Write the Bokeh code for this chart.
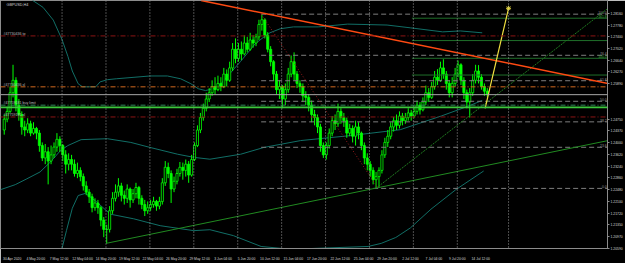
from bokeh.plotting import figure
from bokeh.models import FixedTicker, PrintfTickFormatter, Span, Label, ColumnDataSource
from bokeh.embed import file_html
from bokeh.resources import INLINE
from bokeh.core.properties import value

FONT = "Liberation Sans"
AX_FS = "3.4px"

# ---------------- data (GBPUSD, 8-hour candles = 2 H4 bars each) ----------------
first_open = 1.2440
closes = [
    1.2475, 1.2500, 1.2560, 1.2600, 1.2520, 1.2490, 1.2450, 1.2440, 1.2460, 1.2430,
    1.2445, 1.2430, 1.2390, 1.2350, 1.2370, 1.2340, 1.2360, 1.2385, 1.2410, 1.2390,
    1.2360, 1.2330, 1.2345, 1.2330, 1.2300, 1.2310, 1.2290, 1.2260, 1.2240, 1.2225,
    1.2190, 1.2205, 1.2190, 1.2150, 1.2120, 1.2120, 1.2180, 1.2220, 1.2240, 1.2260,
    1.2230, 1.2220, 1.2250, 1.2215, 1.2235, 1.2255, 1.2220, 1.2200, 1.2180, 1.2190,
    1.2200, 1.2210, 1.2195, 1.2210, 1.2270, 1.2320, 1.2300, 1.2250, 1.2275, 1.2300,
    1.2320, 1.2310, 1.2330, 1.2295, 1.2345, 1.2390, 1.2440, 1.2480, 1.2510, 1.2540,
    1.2560, 1.2580, 1.2570, 1.2590, 1.2580, 1.2620, 1.2600, 1.2640, 1.2700, 1.2670,
    1.2700, 1.2685, 1.2720, 1.2700, 1.2730, 1.2720, 1.2740, 1.2780, 1.2795, 1.2745,
    1.2700, 1.2660, 1.2620, 1.2570, 1.2580, 1.2540, 1.2570, 1.2620, 1.2660, 1.2620,
    1.2590, 1.2580, 1.2550, 1.2545, 1.2520, 1.2490, 1.2480, 1.2450, 1.2390, 1.2360,
    1.2390, 1.2430, 1.2470, 1.2460, 1.2500, 1.2480, 1.2470, 1.2430, 1.2445, 1.2420,
    1.2450, 1.2430, 1.2390, 1.2350, 1.2330, 1.2310, 1.2280, 1.2290, 1.2310, 1.2360,
    1.2400, 1.2420, 1.2450, 1.2470, 1.2455, 1.2485, 1.2470, 1.2480, 1.2495, 1.2485,
    1.2500, 1.2520, 1.2505, 1.2530, 1.2560, 1.2545, 1.2580, 1.2610, 1.2600, 1.2640,
    1.2620, 1.2590, 1.2560, 1.2590, 1.2620, 1.2650, 1.2600, 1.2560, 1.2530, 1.2560,
    1.2600, 1.2630, 1.2610, 1.2580, 1.2565, 1.2554,
]
highs = [
    1.2490, 1.2515, 1.2580, 1.2650, 1.2610, 1.2540, 1.2500, 1.2470, 1.2478, 1.2470,
    1.2465, 1.2450, 1.2440, 1.2400, 1.2395, 1.2385, 1.2390, 1.2400, 1.2430, 1.2420,
    1.2395, 1.2375, 1.2365, 1.2360, 1.2345, 1.2335, 1.2320, 1.2300, 1.2275, 1.2250,
    1.2235, 1.2220, 1.2215, 1.2195, 1.2160, 1.2135, 1.2195, 1.2240, 1.2265, 1.2285,
    1.2270, 1.2245, 1.2265, 1.2255, 1.2250, 1.2270, 1.2260, 1.2230, 1.2215, 1.2210,
    1.2215, 1.2225, 1.2215, 1.2225, 1.2285, 1.2340, 1.2335, 1.2310, 1.2290, 1.2315,
    1.2337, 1.2335, 1.2345, 1.2340, 1.2360, 1.2400, 1.2455, 1.2495, 1.2525, 1.2560,
    1.2575, 1.2600, 1.2610, 1.2615, 1.2610, 1.2640, 1.2635, 1.2660, 1.2720, 1.2735,
    1.2720, 1.2725, 1.2745, 1.2740, 1.2753, 1.2745, 1.2750, 1.2795, 1.2813, 1.2800,
    1.2755, 1.2710, 1.2665, 1.2630, 1.2600, 1.2585, 1.2590, 1.2640, 1.2680, 1.2690,
    1.2630, 1.2600, 1.2590, 1.2565, 1.2555, 1.2535, 1.2505, 1.2490, 1.2460, 1.2400,
    1.2400, 1.2445, 1.2485, 1.2490, 1.2525, 1.2510, 1.2495, 1.2480, 1.2460, 1.2455,
    1.2470, 1.2465, 1.2435, 1.2400, 1.2365, 1.2340, 1.2320, 1.2305, 1.2320, 1.2375,
    1.2415, 1.2440, 1.2465, 1.2482, 1.2490, 1.2500, 1.2495, 1.2495, 1.2510, 1.2505,
    1.2515, 1.2535, 1.2530, 1.2545, 1.2583, 1.2575, 1.2595, 1.2630, 1.2636, 1.2660,
    1.2668, 1.2630, 1.2600, 1.2610, 1.2640, 1.2664, 1.2655, 1.2610, 1.2570, 1.2575,
    1.2620, 1.2650, 1.2649, 1.2620, 1.2590, 1.2575,
]
lows = [
    1.2425, 1.2465, 1.2495, 1.2545, 1.2500, 1.2470, 1.2425, 1.2420, 1.2430, 1.2420,
    1.2425, 1.2410, 1.2370, 1.2340, 1.2330, 1.2265, 1.2330, 1.2350, 1.2370, 1.2370,
    1.2340, 1.2300, 1.2310, 1.2310, 1.2290, 1.2285, 1.2275, 1.2245, 1.2230, 1.2205,
    1.2175, 1.2180, 1.2170, 1.2130, 1.2095, 1.2076, 1.2110, 1.2170, 1.2210, 1.2225,
    1.2210, 1.2200, 1.2205, 1.2190, 1.2205, 1.2220, 1.2200, 1.2185, 1.2163, 1.2170,
    1.2180, 1.2190, 1.2180, 1.2185, 1.2200, 1.2260, 1.2285, 1.2205, 1.2240, 1.2265,
    1.2290, 1.2280, 1.2290, 1.2270, 1.2290, 1.2340, 1.2385, 1.2430, 1.2470, 1.2500,
    1.2530, 1.2550, 1.2555, 1.2565, 1.2565, 1.2575, 1.2580, 1.2595, 1.2630, 1.2655,
    1.2660, 1.2665, 1.2680, 1.2690, 1.2695, 1.2705, 1.2710, 1.2730, 1.2760, 1.2735,
    1.2690, 1.2645, 1.2600, 1.2555, 1.2540, 1.2510, 1.2520, 1.2560, 1.2610, 1.2600,
    1.2575, 1.2560, 1.2530, 1.2520, 1.2500, 1.2465, 1.2455, 1.2430, 1.2370, 1.2350,
    1.2345, 1.2380, 1.2420, 1.2440, 1.2450, 1.2460, 1.2450, 1.2415, 1.2420, 1.2400,
    1.2390, 1.2410, 1.2375, 1.2330, 1.2310, 1.2290, 1.2265, 1.2252, 1.2255, 1.2300,
    1.2350, 1.2385, 1.2410, 1.2435, 1.2440, 1.2445, 1.2455, 1.2460, 1.2470, 1.2470,
    1.2478, 1.2490, 1.2490, 1.2500, 1.2520, 1.2530, 1.2540, 1.2570, 1.2585, 1.2595,
    1.2605, 1.2570, 1.2545, 1.2545, 1.2580, 1.2610, 1.2585, 1.2540, 1.2510, 1.2480,
    1.2550, 1.2590, 1.2590, 1.2570, 1.2550, 1.2545,
]

# Bollinger-type bands (bar index, price)
bb_up_bar = [12, 20, 27, 34, 40, 44, 47, 51, 54, 63, 66, 71, 77, 100, 112, 121, 128, 133, 138, 143,
             148, 162, 172, 178, 182, 189, 198, 215, 235, 262, 278, 300, 312, 327]
bb_up = [1.2983, 1.2857, 1.2835, 1.2794, 1.2731, 1.2677, 1.2630, 1.2589, 1.2579, 1.2579,
         1.2595, 1.2602, 1.2605, 1.2614, 1.2614, 1.2605, 1.2589, 1.2573, 1.2567, 1.2573,
         1.2586, 1.2661, 1.2718, 1.2740, 1.2753, 1.2766, 1.2772, 1.2772, 1.2781, 1.2778,
         1.2769, 1.2756, 1.2759, 1.2753]
bb_mid_bar = [-2, 8, 16, 25, 32, 39, 44, 53, 71, 87, 100, 119, 130, 141, 162, 178, 203, 237, 271,
              285, 299, 317, 327]
bb_mid = [1.2248, 1.2264, 1.2283, 1.2305, 1.2337, 1.2374, 1.2390, 1.2409, 1.2412, 1.2400,
          1.2384, 1.2362, 1.2352, 1.2346, 1.2362, 1.2384, 1.2406, 1.2422, 1.2441, 1.2463,
          1.2485, 1.2516, 1.2535]
bb_low_bar = [36, 40, 43, 47, 51, 56, 63, 73, 89, 107, 130, 141, 157, 176, 196, 249, 258, 268,
              278, 292, 309, 328]
bb_low = [1.1990, 1.2059, 1.2116, 1.2188, 1.2229, 1.2236, 1.2211, 1.2169, 1.2154, 1.2132,
          1.2116, 1.2119, 1.2100, 1.2065, 1.2056, 1.2065, 1.2075, 1.2094, 1.2125, 1.2185,
          1.2248, 1.2308]

# drawn objects
res_line_bar = [135, 413]          # descending trend line through 10 Jun high
res_line_px = [1.2857, 1.2590]
sup_line_bar = [70, 413]           # rising trend line from May low
sup_line_px = [1.2075, 1.2406]
fan_line_bar = [256, 413]          # steep line from 29 Jun low
fan_line_px = [1.2258, 1.2832]
arrow_bar = [329, 345]             # yellow projection
arrow_px = [1.2510, 1.2832]

fib_high_bar, fib_high = 176, 1.2813
fib_low_bar, fib_low = 256, 1.2252
fib_ratios = [0.0, 0.236, 0.382, 0.5, 0.618, 0.764, 1.0]
fib_names = ["0.0", "23.6", "38.2", "50.0", "61.8", "76.4", "100.0"]

ext_levels = [1.2800, 1.2728, 1.2671, 1.2617]
ext_names = ["161.8", "", "100.0", ""]
ext_start_bar = 279

order_prices = [1.2743, 1.2579, 1.2520, 1.2482]
order_names = ["#47730436 tp", "#47730436 sl", "#47759181 buy limit", "#47759181 sl"]
order_colors = ["#8b1414", "#d2691e", "#2e8b57", "#8b1414"]

hline_price = 1.2513
bid_price = 1.25538
week_sep_bars = [40, 70, 100, 130, 160, 190, 220, 250, 280, 310, 345]

price_ticks = [1.28160, 1.27780, 1.27400, 1.27020, 1.26640, 1.26270, 1.25890, 1.24750,
               1.24370, 1.24000, 1.23620, 1.23240, 1.22860, 1.22480, 1.22100, 1.21720,
               1.21350, 1.20970, 1.20590]
date_tick_bars = [-1, 15, 31, 47, 63, 79, 95, 111, 127, 143, 159, 175, 191, 207, 223, 239,
                  255, 271, 287, 303, 319]
date_tick_labels = ["30 Apr 2020", "4 May 20:00", "7 May 12:00", "12 May 04:00", "14 May 20:00",
                    "19 May 12:00", "22 May 04:00", "26 May 20:00", "29 May 12:00", "3 Jun 04:00",
                    "5 Jun 20:00", "10 Jun 12:00", "15 Jun 04:00", "17 Jun 20:00", "22 Jun 12:00",
                    "25 Jun 04:00", "29 Jun 20:00", "2 Jul 12:00", "7 Jul 04:00", "9 Jul 20:00",
                    "14 Jul 12:00"]

# ---------------- figure ----------------
p = figure(width=625, height=263, x_range=(-2.05, 412.6), y_range=(1.20585, 1.2857),
           y_axis_location="right", output_backend="svg", toolbar_location=None,
           background_fill_color="black", border_fill_color="black",
           min_border_left=0, min_border_top=0, min_border_right=18, min_border_bottom=10)
p.outline_line_color = "#8c8c8c"
p.grid.visible = False

xa = p.xaxis[0]
LBL_SHIFT = 7
xa.ticker = FixedTicker(ticks=[b + LBL_SHIFT for b in date_tick_bars])
xa.major_label_overrides = {b + LBL_SHIFT: t for b, t in zip(date_tick_bars, date_tick_labels)}
xa.major_tick_line_color = None
xa.minor_tick_line_color = None
xa.axis_line_color = "#8c8c8c"
xa.major_label_text_color = "#d8d8d8"
xa.major_label_text_font = FONT
xa.major_label_text_font_size = AX_FS
xa.major_label_standoff = 2

ya = p.yaxis[0]
ya.ticker = FixedTicker(ticks=price_ticks)
ya.formatter = PrintfTickFormatter(format="%.5f")
ya.major_tick_out = 2
ya.major_tick_in = 0
ya.major_tick_line_color = "#8c8c8c"
ya.minor_tick_line_color = None
ya.axis_line_color = "#8c8c8c"
ya.major_label_text_color = "#d8d8d8"
ya.major_label_text_font = FONT
ya.major_label_text_font_size = AX_FS
ya.major_label_standoff = 1

# weekly separators
for b in week_sep_bars:
    p.add_layout(Span(location=b, dimension="height", line_color="#9a9a9a",
                      line_dash="1 2", line_width=1))

# bands
TEAL = "#116e66"
p.line(bb_up_bar, bb_up, line_color=TEAL, line_width=1)
p.line(bb_mid_bar, bb_mid, line_color=TEAL, line_width=1)
p.line(bb_low_bar, bb_low, line_color=TEAL, line_width=1)

# candles
opens = [first_open] + closes[:-1]
xs = [2 * k + 0.5 for k in range(len(closes))]
src = ColumnDataSource(dict(
    x=xs, high=highs, low=lows,
    top=[max(o, c) for o, c in zip(opens, closes)],
    bottom=[min(o, c) for o, c in zip(opens, closes)],
    fill=["#000000" if c >= o else "#00ff00" for o, c in zip(opens, closes)],
))
p.segment(x0="x", y0="low", x1="x", y1="high", source=src, line_color="#00ff00", line_width=1)
p.vbar(x="x", width=1.45, top="top", bottom="bottom", source=src,
       fill_color="fill", line_color="#00ff00", line_width=0.8)

# horizontal order lines and labels
for pr, nm, col in zip(order_prices, order_names, order_colors):
    p.add_layout(Span(location=pr, dimension="width", line_color=col,
                      line_dash="5 2 1 2", line_width=1))
p.text(x=[0] * len(order_prices), y=order_prices, text=order_names,
       text_font=value(FONT), text_font_size="3.6px", text_color="#bdbdbd",
       text_align="left", text_baseline="bottom")

p.add_layout(Span(location=bid_price, dimension="width", line_color="#a8a8a8", line_width=1))
p.add_layout(Span(location=hline_price, dimension="width", line_color="#3cc83c", line_width=1.8))

# fibonacci retracement
fib_prices = [fib_low + r * (fib_high - fib_low) for r in fib_ratios]
p.segment(x0=[fib_high_bar] * len(fib_prices), y0=fib_prices,
          x1=[420] * len(fib_prices), y1=fib_prices,
          line_color="#7e7e7e", line_dash="5 3", line_width=1)
p.text(x=[412] * len(fib_prices), y=fib_prices, text=fib_names,
       text_font=value(FONT), text_font_size="3.4px", text_color="#9a9a9a",
       text_align="right", text_baseline="bottom")
p.line([fib_high_bar, fib_low_bar], [fib_high, fib_low], line_color="#9b1c1c",
       line_dash="1 2", line_width=1)

# extension levels (right side)
p.segment(x0=[ext_start_bar] * len(ext_levels), y0=ext_levels,
          x1=[420] * len(ext_levels), y1=ext_levels, line_color="#1f6f2a", line_width=1)
p.text(x=[412] * len(ext_levels), y=ext_levels, text=ext_names,
       text_font=value(FONT), text_font_size="3.4px", text_color="#3fae3f",
       text_align="right", text_baseline="bottom")

# trend lines
p.line(sup_line_bar, sup_line_px, line_color="#218a21", line_width=1)
p.line(fan_line_bar, fan_line_px, line_color="#1f7a1f", line_width=1, line_dash="2 1")
p.line(res_line_bar, res_line_px, line_color="#ff4a12", line_width=1.5)
p.line(arrow_bar, arrow_px, line_color="#f0e040", line_width=1.2)
p.scatter([arrow_bar[-1]], [arrow_px[-1]], marker="asterisk", size=5,
          line_color="#f0e040", line_width=1)

# title and price boxes
p.add_layout(Label(x=2, y=1.2843, text="GBPUSD,H4", text_font=FONT,
                   text_font_size="3.8px", text_color="#cfcfcf", text_baseline="middle"))
p.add_layout(Label(x=608, y=bid_price, x_units="screen", text="1.25538", text_font=FONT,
                   text_font_size=AX_FS, text_color="black", text_baseline="middle",
                   background_fill_color="white", padding=1))
p.add_layout(Label(x=608, y=hline_price, x_units="screen", text="1.25130", text_font=FONT,
                   text_font_size=AX_FS, text_color="black", text_baseline="middle",
                   background_fill_color="#3ad83a", padding=1))

open("out.html", "w").write(file_html(p, INLINE))
